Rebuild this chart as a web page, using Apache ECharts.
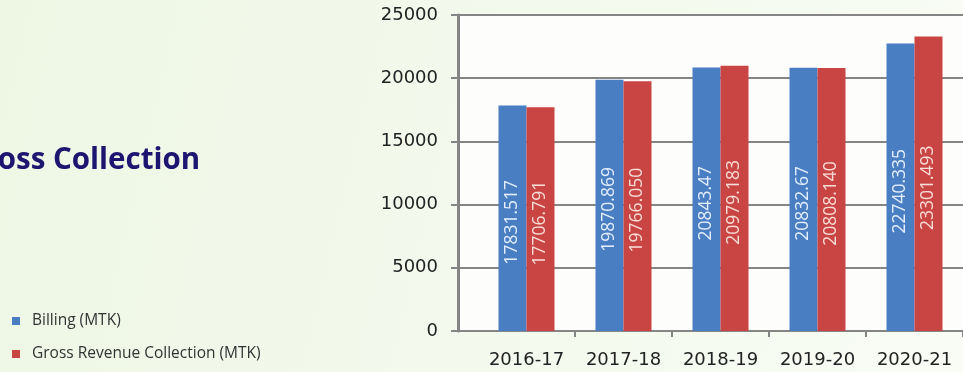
<!DOCTYPE html>
<html>
<head>
<meta charset="utf-8">
<script src="https://cdn.jsdelivr.net/npm/echarts@6/dist/echarts.min.js"></script>
<style>
  html, body { margin: 0; padding: 0; }
  #chart { width: 963px; height: 372px; }
</style>
</head>
<body>
<div id="chart"></div>
<script>
// Financial years shown on the category axis
const years = ['2016-17', '2017-18', '2018-19', '2019-20', '2020-21'];

// Billing and gross revenue collection, in MTK
const billing = [17831.517, 19870.869, 20843.47, 20832.67, 22740.335];
const collection = [17706.791, 19766.050, 20979.183, 20808.140, 23301.493];

// Value axis ticks
const yTicks = [0, 5000, 10000, 15000, 20000, 25000];

const seriesNames = ['Billing (MTK)', 'Gross Revenue Collection (MTK)'];
// Printed values keep their trailing zeros
const labelTexts = [
  ['17831.517', '19870.869', '20843.47', '20832.67', '22740.335'],
  ['17706.791', '19766.050', '20979.183', '20808.140', '23301.493']
];

const chart = echarts.init(document.getElementById('chart'), null, { renderer: 'canvas' });

const axisGray = '#858585';

function barLabel(idx, color) {
  return {
    show: true,
    position: 'inside',
    rotate: 90,
    align: 'center',
    verticalAlign: 'middle',
    // nudge the vertical text slightly toward the base of the bar
    offset: [-4, 0],
    fontFamily: 'Open Sans',
    fontSize: 17.5,
    color: color,
    formatter: p => labelTexts[idx][p.dataIndex]
  };
}

chart.setOption({
  animation: false,
  backgroundColor: {
    type: 'linear', x: 0, y: 0, x2: 1, y2: 0.6,
    colorStops: [
      { offset: 0, color: '#eef6e4' },
      { offset: 0.5, color: '#f3f9ec' },
      { offset: 1, color: '#f8fcf4' }
    ]
  },
  title: {
    text: 'Gross Collection',
    left: -42,
    top: 141,
    textStyle: {
      fontFamily: 'Open Sans',
      fontWeight: 'bold',
      fontSize: 29.5,
      color: '#1d1670'
    }
  },
  legend: {
    orient: 'vertical',
    left: 7,
    top: 308,
    itemWidth: 8,
    itemHeight: 8,
    itemGap: 17,
    icon: 'rect',
    data: seriesNames,
    textStyle: {
      fontFamily: 'Open Sans',
      fontSize: 15.5,
      color: '#333333',
      padding: [0, 0, 0, 7]
    }
  },
  grid: [
    { left: 458, right: -4, top: 15, bottom: 41, show: true, backgroundColor: '#fdfdfb', borderWidth: 0 },
    { left: 478, right: -4, top: 15, bottom: 41 }
  ],
  xAxis: [
    {
      gridIndex: 0,
      type: 'value',
      min: 0,
      max: 1,
      axisLine: { show: true, lineStyle: { color: axisGray, width: 2 } },
      axisTick: { show: false },
      axisLabel: { show: false },
      splitLine: { show: false }
    },
    {
      gridIndex: 1,
      type: 'category',
      data: years,
      boundaryGap: true,
      axisLine: { show: false },
      axisTick: {
        show: true,
        length: 6,
        interval: (index) => index !== 0,
        lineStyle: { color: axisGray, width: 2 }
      },
      axisLabel: {
        interval: 0,
        margin: 20,
        fontFamily: 'DejaVu Sans',
        fontSize: 18,
        color: '#222222'
      }
    }
  ],
  yAxis: [
    {
      gridIndex: 0,
      type: 'value',
      min: yTicks[0],
      max: yTicks[yTicks.length - 1],
      interval: yTicks[1] - yTicks[0],
      axisLine: { show: true, lineStyle: { color: axisGray, width: 3 } },
      axisTick: { show: true, length: 7, lineStyle: { color: axisGray, width: 2 } },
      axisLabel: {
        margin: 20,
        fontFamily: 'DejaVu Sans',
        fontSize: 18,
        color: '#222222',
        formatter: v => String(v)
      },
      splitLine: { show: true, lineStyle: { color: axisGray, width: 2 } }
    },
    {
      gridIndex: 1,
      type: 'value',
      min: yTicks[0],
      max: yTicks[yTicks.length - 1],
      show: false,
      splitLine: { show: false }
    }
  ],
  series: [
    {
      name: seriesNames[0],
      type: 'bar',
      xAxisIndex: 1,
      yAxisIndex: 1,
      data: billing,
      barWidth: 28,
      barGap: '0%',
      itemStyle: { color: '#4a7ec2' },
      label: barLabel(0, '#e3efff')
    },
    {
      name: seriesNames[1],
      type: 'bar',
      xAxisIndex: 1,
      yAxisIndex: 1,
      data: collection,
      barWidth: 28,
      barGap: '0%',
      itemStyle: { color: '#c94543' },
      label: barLabel(1, '#f8dcd6')
    }
  ]
});
</script>
</body>
</html>
